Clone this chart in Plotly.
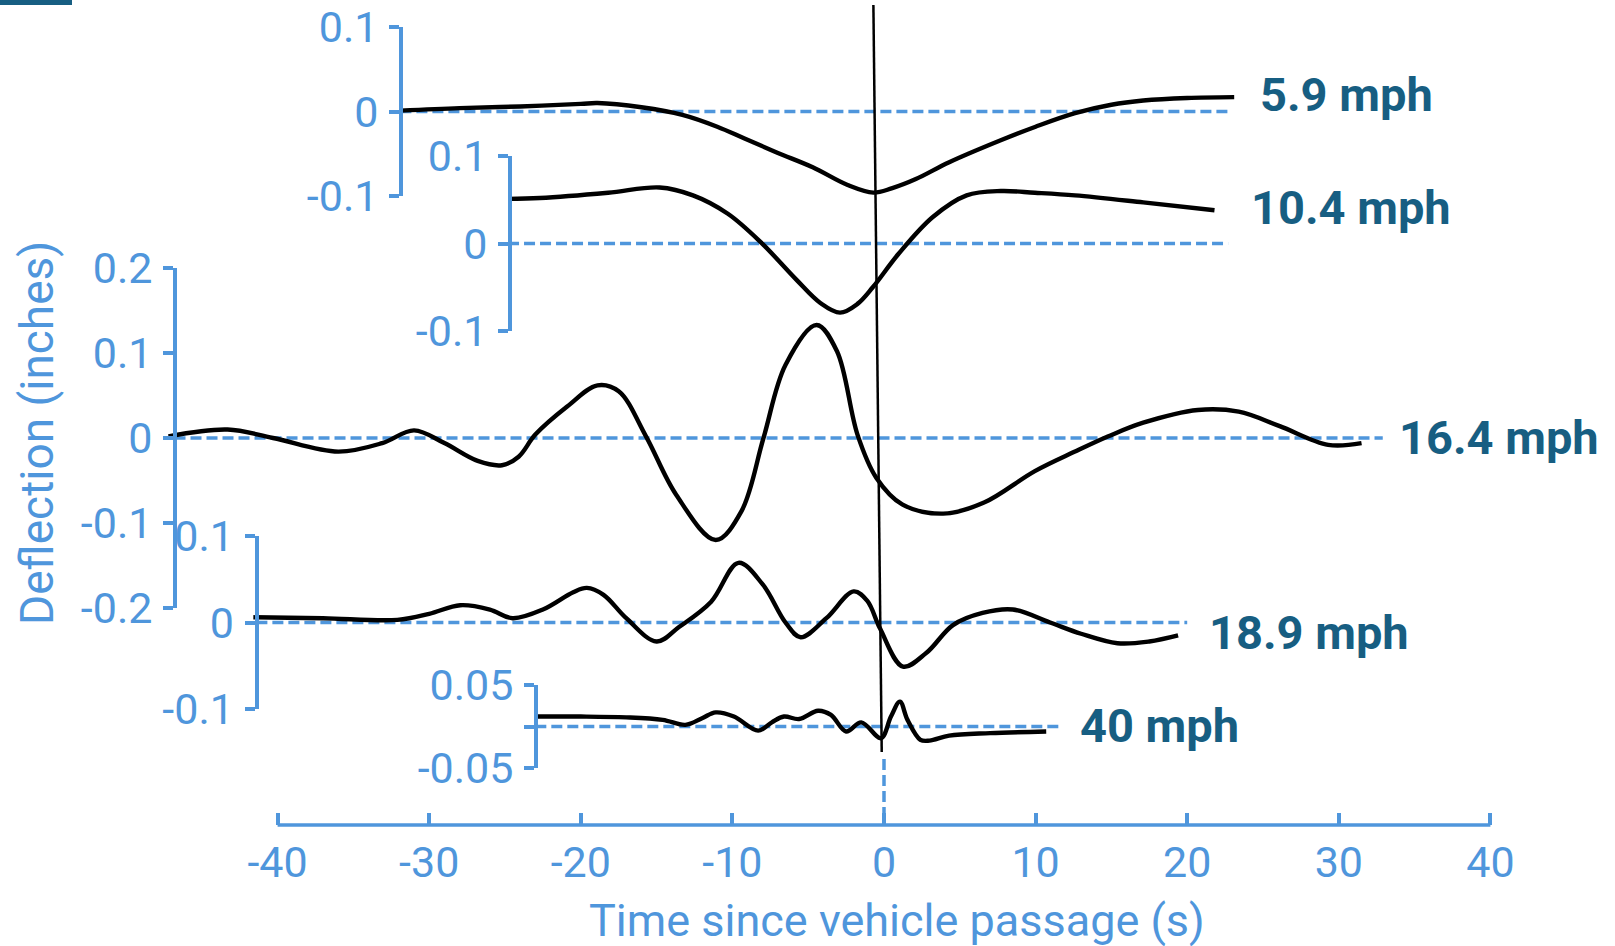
import plotly.graph_objects as go

# ---------------- data (time in s, deflection in inches) ----------------
speed_labels = ["5.9 mph", "10.4 mph", "16.4 mph", "18.9 mph", "40 mph"]

t_59 = [-31.9, -28, -24, -20, -18.9, -16, -13.3, -11, -9.2, -7, -4.7, -2.4, -0.7,
        0.5, 2.1, 4.3, 7.7, 10, 12.6, 15, 17.1, 20, 23.1]
d_59 = [0.001, 0.004, 0.006, 0.009, 0.010, 0.005, -0.004, -0.018, -0.032, -0.049,
        -0.066, -0.087, -0.096, -0.091, -0.080, -0.060, -0.034, -0.018, -0.002,
        0.008, 0.013, 0.016, 0.017]

t_104 = [-24.8, -22.7, -18.2, -14.8, -12.6, -10.3, -8.1, -5.8, -4.2, -2.9, -1.75,
         -0.74, 0.95, 3.2, 5.45, 7.7, 9.95, 12.6, 17.1, 21.8]
d_104 = [0.051, 0.052, 0.058, 0.064, 0.055, 0.034, 0.001, -0.041, -0.068, -0.079,
         -0.069, -0.050, -0.012, 0.030, 0.055, 0.060, 0.058, 0.055, 0.047, 0.038]

t_164 = [-47.2, -43.3, -40.3, -36.0, -33.1, -31.0, -29.0, -26.8, -25.2, -24.1, -23.0,
         -20.9, -18.9, -17.5, -15.7, -13.7, -11.1, -9.4, -7.95, -6.5, -4.45, -3.1,
         -1.75, -0.5, 1.2, 3.9, 6.6, 9.95, 12.6, 14.8, 17.1, 20.7, 23.4, 26.1, 29.3, 31.5]
d_164 = [0.002, 0.010, 0.000, -0.016, -0.006, 0.009, -0.006, -0.027, -0.032, -0.022,
         0.004, 0.037, 0.062, 0.055, 0.002, -0.067, -0.120, -0.086, 0.000, 0.086,
         0.133, 0.102, 0.004, -0.047, -0.078, -0.089, -0.076, -0.039, -0.016, 0.002,
         0.018, 0.033, 0.031, 0.014, -0.008, -0.006]

t_189 = [-41.6, -37, -32.1, -30, -27.95, -26, -24.5, -22.5, -20.5, -19.6, -18.5, -17,
         -15.0, -13.5, -11.4, -9.6, -8.0, -6.5, -5.5, -3.8, -2.0, -1.1, -0.26, 1.25,
         2.8, 4.55, 6.5, 8.5, 10.95, 13, 15.4, 17.5, 19.4]
d_189 = [0.006, 0.005, 0.003, 0.010, 0.020, 0.015, 0.005, 0.015, 0.035, 0.040, 0.032,
         0.005, -0.022, -0.005, 0.024, 0.069, 0.044, 0.000, -0.017, 0.005, 0.036,
         0.025, -0.007, -0.051, -0.035, -0.003, 0.011, 0.015, 0.000, -0.013, -0.024,
         -0.022, -0.015]

t_40 = [-23.0, -20, -17, -14.6, -13.1, -12.0, -11.1, -9.9, -8.3, -7.4, -6.6, -5.6,
        -4.35, -3.5, -2.5, -1.5, -0.2, 0.46, 1.05, 1.55, 2.4, 3.0, 4.3, 7, 10.7]
d_40 = [0.012, 0.012, 0.011, 0.008, 0.002, 0.010, 0.017, 0.012, -0.005, 0.005, 0.012,
        0.009, 0.019, 0.014, -0.006, 0.005, -0.014, 0.012, 0.030, 0.008, -0.016,
        -0.017, -0.011, -0.008, -0.006]

# y tick values and their labels for each panel
yticks_59 = [0.1, 0, -0.1]
ylabels_59 = ["0.1", "0", "-0.1"]
yticks_104 = [0.1, 0, -0.1]
ylabels_104 = ["0.1", "0", "-0.1"]
yticks_164 = [0.2, 0.1, 0, -0.1, -0.2]
ylabels_164 = ["0.2", "0.1", "0", "-0.1", "-0.2"]
yticks_189 = [0.1, 0, -0.1]
ylabels_189 = ["0.1", "0", "-0.1"]
yticks_40 = [0.05, 0, -0.05]
ylabels_40 = ["0.05", "", "-0.05"]

# time span of each zero (dashed) reference line
base_start = [-31.9, -24.8, -46.8, -41.4, -23.0]
base_end = [22.9, 22.7, 32.9, 20.0, 11.5]

x_ticks = [-40, -30, -20, -10, 0, 10, 20, 30, 40]
x_labels = ["-40", "-30", "-20", "-10", "0", "10", "20", "30", "40"]

# ---------------- styling / layout ----------------
W, H = 1615, 946
X0, PPU = 884.0, 15.16          # pixel of t=0, pixels per second
BLUE = "#4f96dc"
TEAL = "#175e82"
FONT = "Roboto"

curves = [(t_59, d_59), (t_104, d_104), (t_164, d_164), (t_189, d_189), (t_40, d_40)]
yticks = [yticks_59, yticks_104, yticks_164, yticks_189, yticks_40]
ylabels = [ylabels_59, ylabels_104, ylabels_164, ylabels_189, ylabels_40]
# panel geometry in pixels: bracket x, top tick y, bottom tick y
geom = [(401, 27, 196), (510, 156, 331), (175, 268, 608), (256.5, 536, 709), (536, 685, 768)]
label_pos = [(1258, 94), (1249, 207), (1397, 437), (1207, 632), (1078, 725)]

fig = go.Figure()
layout_axes = {}
for i, ((tt, dd), tv, tl, (bx, ty, by), b0, b1) in enumerate(
        zip(curves, yticks, ylabels, geom, base_start, base_end)):
    yname = "y" if i == 0 else "y%d" % (i + 1)
    lname = "yaxis" if i == 0 else "yaxis%d" % (i + 1)
    fig.add_trace(go.Scatter(x=[b0, b1], y=[0, 0], mode="lines", xaxis="x", yaxis=yname,
                             line=dict(color=BLUE, width=3.5, dash="11px,5px"),
                             hoverinfo="skip", showlegend=False))
    fig.add_trace(go.Scatter(x=tt, y=dd, mode="lines", xaxis="x", yaxis=yname,
                             line=dict(color="black", width=4.4, shape="spline", smoothing=1.0),
                             name=speed_labels[i], showlegend=False))
    layout_axes[lname] = dict(
        domain=[1 - by / H, 1 - ty / H],
        range=[min(tv), max(tv)],
        anchor="free", position=bx / W,
        showline=True, linecolor=BLUE, linewidth=4,
        ticks="outside", ticklen=10, tickwidth=4, tickcolor=BLUE,
        tickvals=tv, ticktext=tl,
        tickfont=dict(family=FONT, size=43, color=BLUE),
        ticklabelstandoff=2,
        showgrid=False, zeroline=False, fixedrange=True,
    )

axis_y = 825
fig.update_layout(
    width=W, height=H,
    margin=dict(l=0, r=0, t=0, b=0, pad=0, autoexpand=False),
    paper_bgcolor="white", plot_bgcolor="rgba(0,0,0,0)",
    xaxis=dict(domain=[0, 1], range=[-X0 / PPU, (W - X0) / PPU],
               anchor="free", position=1 - axis_y / H,
               showline=False, showgrid=False, zeroline=False,
               ticks="inside", ticklen=12, tickwidth=3.5, tickcolor=BLUE,
               tickvals=x_ticks, ticktext=x_labels,
               tickfont=dict(family=FONT, size=43, color=BLUE),
               ticklabelstandoff=8, fixedrange=True),
    **layout_axes,
)

shapes = [
    # bottom axis line
    dict(type="line", xref="x", yref="paper", x0=min(x_ticks), x1=max(x_ticks),
         y0=1 - axis_y / H, y1=1 - axis_y / H, line=dict(color=BLUE, width=3.5)),
    # vehicle passage marker (black) and dashed extension to axis
    dict(type="line", xref="x", yref="paper", x0=-0.7, x1=-0.15, y0=1 - 5 / H, y1=1 - 752 / H,
         line=dict(color="black", width=2.5)),
    dict(type="line", xref="x", yref="paper", x0=0, x1=0, y0=1 - 759 / H, y1=1 - axis_y / H,
         line=dict(color=BLUE, width=3.5, dash="11px,5px")),
    # small dark bar top-left
    dict(type="rect", xref="paper", yref="paper", x0=0, x1=72 / W, y0=1 - 5 / H, y1=1,
         fillcolor=TEAL, line=dict(width=0)),
]
fig.update_layout(shapes=shapes)

annotations = []
for lab, (lx, ly) in zip(speed_labels, label_pos):
    annotations.append(dict(text="<b>%s</b>" % lab, xref="paper", yref="paper",
                            x=lx / W, y=1 - ly / H, xanchor="left", yanchor="middle",
                            showarrow=False, font=dict(family=FONT, size=47, color=TEAL)))
annotations.append(dict(text="Time since vehicle passage (s)", xref="paper", yref="paper",
                        x=897 / W, y=1 - 920 / H, xanchor="center", yanchor="middle",
                        showarrow=False, font=dict(family=FONT, size=45, color=BLUE)))
annotations.append(dict(text="Deflection (inches)", xref="paper", yref="paper",
                        x=37 / W, y=1 - 433 / H, xanchor="center", yanchor="middle",
                        textangle=-90, showarrow=False,
                        font=dict(family=FONT, size=46, color=BLUE)))
fig.update_layout(annotations=annotations)

fig.write_html("out.html",
               config={"displayModeBar": False},
               post_script="document.body.style.margin='0';document.body.style.overflow='hidden';")
